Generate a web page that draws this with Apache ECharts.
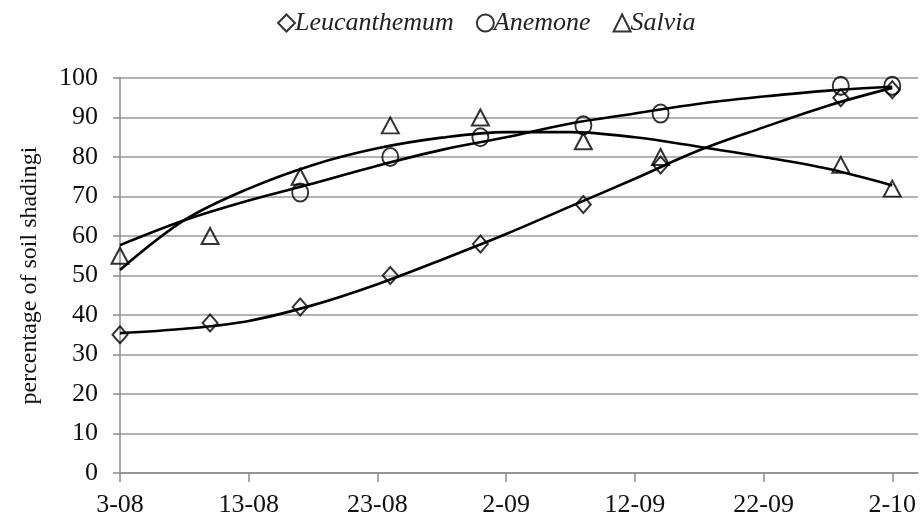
<!DOCTYPE html>
<html>
<head>
<meta charset="utf-8">
<script src="https://cdn.jsdelivr.net/npm/echarts@6/dist/echarts.min.js"></script>
<style>
html,body{margin:0;padding:0;background:#fff;}
#chart{width:920px;height:526px;}
</style>
</head>
<body>
<div id="chart"></div>
<script>
// x axis: days since 3 August
const tickDays = [0, 10, 20, 30, 40, 50, 60];
const tickLabels = ['3-08', '13-08', '23-08', '2-09', '12-09', '22-09', '2-10'];
const yTicks = [0, 10, 20, 30, 40, 50, 60, 70, 80, 90, 100];

// observation days
const sampleDays = [0, 7, 14, 21, 28, 36, 42, 56, 60];
const leucanthemum = [35, 38, 42, 50, 58, 68, 78, 95, 97];
const anemone = [null, null, 71, 80, 85, 88, 91, 98, 98];
const salvia = [55, 60, 75, 88, 90, 84, 80, 78, 72];

// trend lines
const trendDays = [0, 5, 10, 15, 20, 25, 30, 35, 40, 45, 50, 55, 60];
const leucTrend = [35.4, 36.5, 38.5, 42.5, 47.8, 54, 60.5, 67.5, 74.5, 81.7, 87.5, 93, 97.5];
const anemTrend = [57.7, 64, 69, 73.3, 77.8, 81.8, 85, 88.5, 91, 93.5, 95.3, 96.8, 97.8];
const salvTrend = [51.4, 64, 72, 78, 82.2, 84.9, 86.3, 86.3, 85, 82.6, 80, 77, 72.8];

const seriesNames = ['Leucanthemum', 'Anemone', 'Salvia'];

const FONT = '"Liberation Serif", "Times New Roman", serif';

function pts(xs, ys) {
  const out = [];
  xs.forEach((x, i) => { if (ys[i] != null) out.push([x, ys[i]]); });
  return out;
}

const chart = echarts.init(document.getElementById('chart'));
const markerStyle = { color: 'rgba(255,255,255,0)', borderColor: '#000', borderWidth: 2 };
const trendStyle = { color: '#000', width: 2.6 };

chart.setOption({
  animation: false,
  backgroundColor: '#fff',
  legend: {
    top: 5,
    left: 272,
    itemGap: 22,
    itemWidth: 17,
    itemHeight: 17,
    textStyle: { fontFamily: FONT, fontStyle: 'italic', fontSize: 26, color: '#222', padding: [0, 0, 0, -5] },
    data: [
      { name: seriesNames[0], icon: 'diamond', itemStyle: { color: '#fff', borderColor: '#000', borderWidth: 2 } },
      { name: seriesNames[1], icon: 'circle', itemStyle: { color: '#fff', borderColor: '#000', borderWidth: 2 } },
      { name: seriesNames[2], icon: 'triangle', itemStyle: { color: '#fff', borderColor: '#000', borderWidth: 2 } }
    ]
  },
  grid: { left: 120, right: 2, top: 78, bottom: 53 },
  xAxis: {
    type: 'value',
    min: 0,
    max: 62,
    interval: 10,
    axisLine: { show: true, lineStyle: { color: '#8c8c8c', width: 1.5 } },
    axisTick: { show: true, length: 9, customValues: tickDays, lineStyle: { color: '#8c8c8c', width: 1.5 } },
    axisLabel: {
      customValues: tickDays,
      formatter: v => tickLabels[tickDays.indexOf(v)],
      fontFamily: FONT, fontSize: 26, color: '#111', margin: 19
    },
    splitLine: { show: false }
  },
  yAxis: {
    type: 'value',
    min: 0,
    max: 100,
    interval: 10,
    name: 'percentage of soil shadingi',
    nameLocation: 'middle',
    nameGap: 78,
    nameRotate: 90,
    nameTextStyle: { fontFamily: FONT, fontSize: 24, color: '#111' },
    axisLine: { show: true, lineStyle: { color: '#8c8c8c', width: 1.5 } },
    axisTick: { show: true, length: 7, lineStyle: { color: '#8c8c8c', width: 1.5 } },
    axisLabel: {
      formatter: v => String(yTicks[yTicks.indexOf(v)]),
      fontFamily: FONT, fontSize: 26, color: '#111', margin: 22
    },
    splitLine: { show: true, lineStyle: { color: '#9a9a9a', width: 1.5 } }
  },
  series: [
    { name: 'trend-L', type: 'line', smooth: 0.35, symbol: 'none', data: pts(trendDays, leucTrend), lineStyle: trendStyle, z: 2, silent: true },
    { name: 'trend-A', type: 'line', smooth: 0.35, symbol: 'none', data: pts(trendDays, anemTrend), lineStyle: trendStyle, z: 2, silent: true },
    { name: 'trend-S', type: 'line', smooth: 0.35, symbol: 'none', data: pts(trendDays, salvTrend), lineStyle: trendStyle, z: 2, silent: true },
    { name: seriesNames[0], type: 'scatter', symbol: 'diamond', symbolSize: [15, 17], data: pts(sampleDays, leucanthemum), itemStyle: markerStyle, z: 3 },
    { name: seriesNames[1], type: 'scatter', symbol: 'circle', symbolSize: [16, 18], data: pts(sampleDays, anemone), itemStyle: markerStyle, z: 3 },
    { name: seriesNames[2], type: 'scatter', symbol: 'triangle', symbolSize: [17, 16], data: pts(sampleDays, salvia), itemStyle: markerStyle, z: 3 }
  ]
});
</script>
</body>
</html>
